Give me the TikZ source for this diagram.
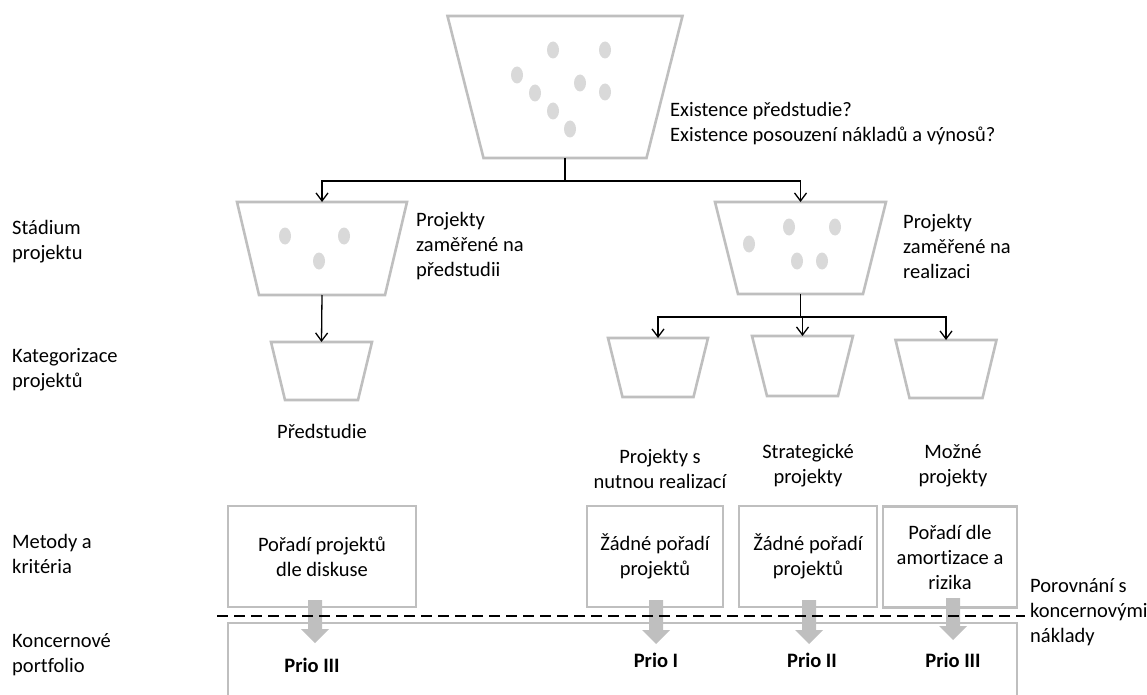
\documentclass[tikz,border=0pt]{standalone}
\usepackage{fontspec}
\setmainfont{Carlito}[Ligatures=CommonOff]
\usetikzlibrary{arrows.meta,calc}
\definecolor{edgegray}{HTML}{BFBFBF}
\definecolor{dotgray}{HTML}{D9D9D9}

% funnel: name, centre x, top y, top width, bottom width, height
\newcommand\drawfunnel[6]{%
  \node[slot, minimum width=#4pt, minimum height=#6pt, anchor=north] (#1) at (#2,#3) {};
  \draw[funnelline] (#1.north west) -- (#1.north east)
    -- ($(#1.south)+(#5/2,0)$) -- ($(#1.south)+(-#5/2,0)$) -- cycle;}

% wide grey arrow: name of start coordinate, name of tip coordinate
\newcommand\prioarrow[2]{%
  \fill[blockarrow] ($(#1)+(-7,0)$) -- ($(#1)+(7,0)$) -- ($(#2)+(7,-14)$)
    -- ($(#2)+(14,-14)$) -- (#2) -- ($(#2)+(-14,-14)$) -- ($(#2)+(-7,-14)$) -- cycle;}

\begin{document}
\begin{tikzpicture}[x=1pt,y=-1pt,
  slot/.style={inner sep=0pt, outer sep=0pt, draw=none},
  funnelline/.style={draw=edgegray, line width=2.6pt, line join=miter},
  frame/.style={draw=edgegray, line width=2.6pt, inner sep=0pt, outer sep=0pt},
  dot/.style={fill=dotgray, draw=none},
  stem/.style={draw=black, line width=1.3pt},
  conn/.style={stem, -{Straight Barb[length=8pt,width=12pt,line width=1.3pt]}},
  txt/.style={font=\fontsize{20.5}{25}\selectfont, inner sep=0pt},
  lbl/.style={txt, align=left, anchor=west},
  ctr/.style={txt, align=center},
  prio/.style={txt, font=\fontsize{20.5}{25}\selectfont\bfseries},
  blockarrow/.style={fill=edgegray, draw=none},
  dashline/.style={draw=black, line width=1.4pt, dash pattern=on 11pt off 6pt},
]
\useasboundingbox (0,0) rectangle (1147,695);
\clip (0,0) rectangle (1147,695);

% ---- funnels ----
\drawfunnel{ftop}{565}{16}{235}{163}{142}
\drawfunnel{midL}{322}{202}{170}{126}{93}
\drawfunnel{midR}{800.5}{202}{171}{125}{92}
\drawfunnel{catA}{321.5}{342}{101}{73}{58}
\drawfunnel{catB}{658}{338}{100}{71}{59}
\drawfunnel{catC}{802.5}{336}{101}{71}{60}
\drawfunnel{catD}{946}{340}{101}{73}{58}

% ---- dots inside the funnels ----
\foreach \px/\py in {553/50, 605/50, 517/75, 580/83, 605/92, 535/93, 553/111, 570/129}
  \fill[dot] (\px,\py) ellipse [x radius=6, y radius=8.5];
\foreach \px/\py in {285/236, 344/236, 319/261}
  \fill[dot] (\px,\py) ellipse [x radius=6, y radius=8.5];
\foreach \px/\py in {749/244, 789/227, 835/227, 797/261, 822/261}
  \fill[dot] (\px,\py) ellipse [x radius=6, y radius=8.5];

% ---- connectors ----
\coordinate (j0) at (565,181);
\draw[stem] (ftop.south) -- (j0);
\draw[conn] (j0) -| (midL.north);
\draw[conn] (j0) -| (midR.north);
\draw[conn] (midL.south) -- (catA.north);
\coordinate (j1) at (800.5,317);
\draw[stem] (midR.south) -- (j1);
\draw[conn] (j1) -| (catB.north);
\draw[conn] (j1) -| (catC.north);
\draw[conn] (j1) -| (catD.north);

% ---- texts beside the funnels ----
\node[lbl] (q) at (670,124) {Existence předstudie?\\Existence posouzení nákladů a výnosů?};
\node[lbl] (rowA) at (12,241.5) {Stádium\\projektu};
\node[lbl] (rowB) at (12,369.5) {Kategorizace\\projektů};
\node[lbl] (rowC) at (12,554) {Metody a\\kritéria};
\node[lbl] (rowD) at (12,655) {Koncernové\\portfolio};
\node[lbl] (tL) at (416,246) {Projekty\\zaměřené na\\předstudii};
\node[lbl] (tR) at (903,246) {Projekty\\zaměřené na\\realizaci};
\node[ctr] (cA) at (322,431) {Předstudie};
\node[ctr] (cB) at (660,469) {Projekty s\\nutnou realizací};
\node[ctr] (cC) at (808,466) {Strategické\\projekty};
\node[ctr] (cD) at (953,466) {Možné\\projekty};

% ---- method boxes ----
\node[frame, ctr, minimum width=188pt, minimum height=101pt] (m1) at (322,556.5) {Pořadí projektů\\dle diskuse};
\node[frame, ctr, minimum width=136pt, minimum height=101pt] (m2) at (655,556.5) {Žádné pořadí\\projektů};
\node[frame, ctr, minimum width=138pt, minimum height=101pt] (m3) at (808,556.5) {Žádné pořadí\\projektů};
\node[frame, ctr, minimum width=134pt, minimum height=101pt] (m4) at (950,557) {Pořadí dle\\amortizace a\\rizika};

% ---- portfolio frame ----
\node[frame, minimum width=789pt, minimum height=110pt, anchor=north west] (pf) at (228,623) {};

% ---- priority labels and grey arrows ----
\node[prio] (p1) at (312,665) {Prio III};
\node[prio] (p2) at (656,660) {Prio I};
\node[prio] (p3) at (812,660) {Prio II};
\node[prio] (p4) at (953,660) {Prio III};
\coordinate (a1s) at (315,600); \coordinate (a1t) at (315,643);
\coordinate (a2s) at (656,600); \coordinate (a2t) at (656,644);
\coordinate (a3s) at (809,600); \coordinate (a3t) at (809,644);
\coordinate (a4s) at (953,598); \coordinate (a4t) at (953,640);
\prioarrow{a1s}{a1t}
\prioarrow{a2s}{a2t}
\prioarrow{a3s}{a3t}
\prioarrow{a4s}{a4t}

% ---- dashed separator ----
\coordinate (d0) at (217,616);
\coordinate (d1) at (1025,616);
\draw[dashline] (d0) -- (d1);
\node[lbl] (cmp) at (1030,612) {Porovnání s\\koncernovými\\náklady};
\end{tikzpicture}
\end{document}
